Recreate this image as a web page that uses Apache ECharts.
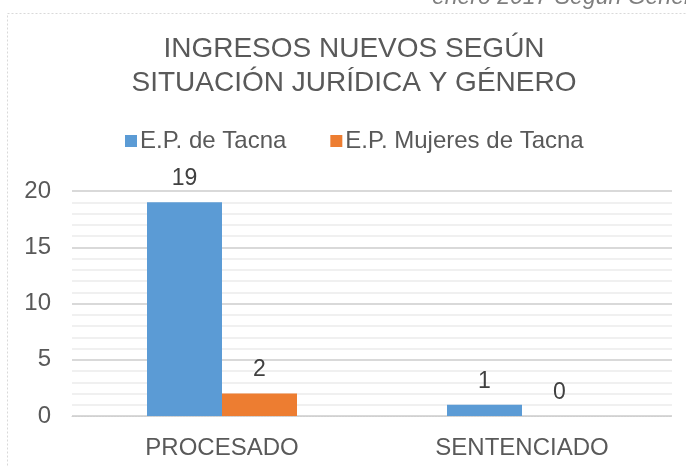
<!DOCTYPE html>
<html><head><meta charset="utf-8">
<script src="https://cdn.jsdelivr.net/npm/echarts@6/dist/echarts.min.js"></script>
<style>html,body{margin:0;padding:0;background:#fff}#c{width:686px;height:467px}</style>
</head><body><div id="c"></div>
<script>
const categories = ['PROCESADO', 'SENTENCIADO'];
const seriesNames = ['E.P. de Tacna', 'E.P. Mujeres de Tacna'];
const tacna = [19, 1];
const mujeresTacna = [2, 0];
const yTicks = [0, 5, 10, 15, 20];

const chart = echarts.init(document.getElementById('c'), null, {renderer: 'canvas'});
const font = 'Liberation Sans, Arial, sans-serif';
chart.setOption({
  animation: false,
  backgroundColor: '#fff',
  textStyle: {fontFamily: font},
  title: {
    text: 'INGRESOS NUEVOS SEGÚN\nSITUACIÓN JURÍDICA Y GÉNERO',
    left: 354, top: 32, textAlign: 'center', padding: 0,
    textStyle: {fontSize: 28, fontWeight: 'normal', color: '#595959', lineHeight: 34, fontFamily: font}
  },
  graphic: [
    {type: 'rect', shape: {x: 7.5, y: 13.5, width: 700, height: 470},
     style: {fill: 'none', stroke: '#d9d9d9', lineWidth: 1, lineDash: [2, 2]}, silent: true, z: -1},
    {type: 'text', left: 432, top: -14,
     style: {text: 'enero 2017 Según Género', fontSize: 23, fontStyle: 'italic', fill: '#7f7f7f', fontFamily: font}}
  ],
  legend: {
    data: seriesNames, top: 124, left: 120,
    icon: 'rect', itemWidth: 12, itemHeight: 12, itemGap: 44,
    textStyle: {fontSize: 24, color: '#595959', fontFamily: font, padding: [0, 0, 0, -2]}
  },
  grid: {left: 72, right: 14, top: 191, bottom: 51, containLabel: false},
  xAxis: {
    type: 'category', data: categories,
    axisLine: {show: true, lineStyle: {color: '#d0d0d0', type: [2, 1], width: 1}},
    axisTick: {show: false},
    axisLabel: {fontSize: 24, color: '#595959', margin: 20, fontFamily: font}
  },
  yAxis: {
    type: 'value', min: yTicks[0], max: yTicks[yTicks.length - 1], interval: 5,
    axisLine: {show: false}, axisTick: {show: false},
    axisLabel: {fontSize: 24, color: '#595959', margin: 21, fontFamily: font},
    splitLine: {lineStyle: {color: '#d9d9d9', width: 2}},
    minorTick: {show: false, splitNumber: 5},
    minorSplitLine: {show: true, lineStyle: {color: '#f0f0f0', width: 2}}
  },
  series: [
    {name: seriesNames[0], type: 'bar', data: tacna, itemStyle: {color: '#5b9bd5'},
     barGap: '0%', barCategoryGap: '50%',
     label: {show: true, position: 'top', distance: 12, fontSize: 23, color: '#404040', fontFamily: font}},
    {name: seriesNames[1], type: 'bar', data: mujeresTacna, itemStyle: {color: '#ed7d31'},
     barGap: '0%', barCategoryGap: '50%',
     label: {show: true, position: 'top', distance: 12, fontSize: 23, color: '#404040', fontFamily: font}}
  ]
});
</script></body></html>
